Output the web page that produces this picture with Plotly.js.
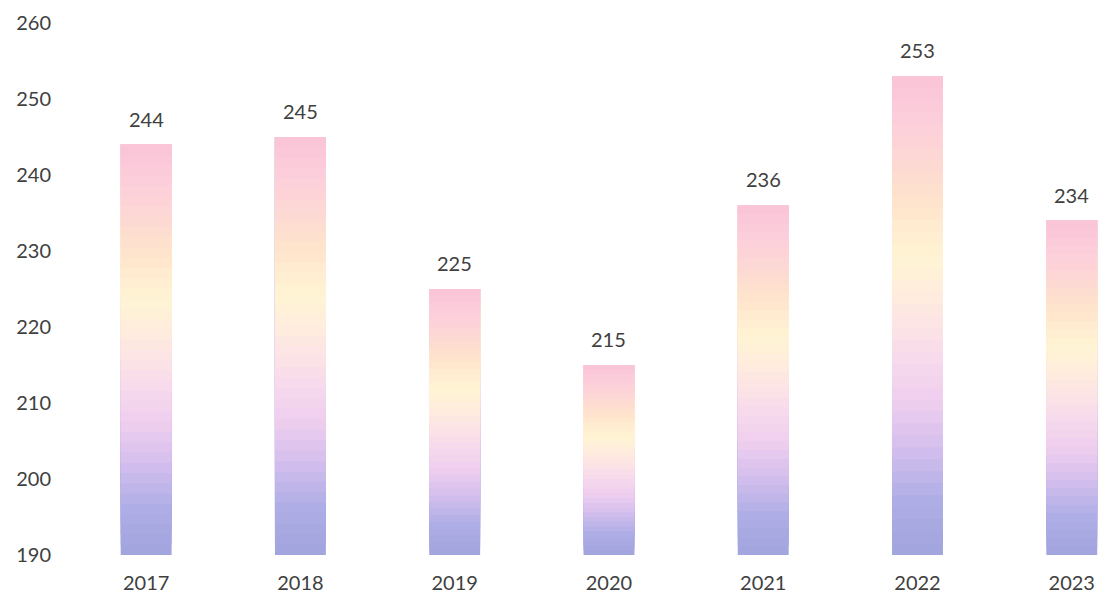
<!DOCTYPE html>
<html><head><meta charset="utf-8">
<script src="https://cdn.plot.ly/plotly-3.0.1.min.js"></script>
<style>html,body{margin:0;padding:0;background:#fff}#chart{width:1098px;height:598px}</style>
</head><body><div id="chart"></div>
<script>
const years = ['2017','2018','2019','2020','2021','2022','2023'];
const values = [244, 245, 225, 215, 236, 253, 234];
const yTicks = [190, 200, 210, 220, 230, 240, 250, 260];

const baseVal = 190;
const nSeg = 40;
const stops = [
  [0.00, [162,164,222]],
  [0.12, [176,174,230]],
  [0.22, [212,190,238]],
  [0.32, [238,206,238]],
  [0.42, [248,220,236]],
  [0.54, [255,236,222]],
  [0.62, [255,244,212]],
  [0.72, [255,230,204]],
  [0.82, [253,216,212]],
  [0.91, [252,206,220]],
  [1.00, [250,196,214]]
];
function colorAt(t){
  for(let i=1;i<stops.length;i++){
    if(t<=stops[i][0]){
      const a=stops[i-1], b=stops[i];
      const f=(t-a[0])/(b[0]-a[0]);
      const c=a[1].map((v,k)=>Math.round(v+(b[1][k]-v)*f));
      return 'rgb('+c.join(',')+')';
    }
  }
  return 'rgb('+stops[stops.length-1][1].join(',')+')';
}
const xIdx = years.map((y,i)=>i);
const traces=[];
for(let k=0;k<nSeg;k++){
  const bases = values.map(v=>baseVal+k*(v-baseVal)/nSeg);
  traces.push({
    type:'bar', x:xIdx, y:values.map((v,i)=>v-bases[i]),
    base: bases,
    width:0.33,
    marker:{color:colorAt((k+0.5)/nSeg), line:{width:0}},
    hoverinfo:'skip', showlegend:false
  });
}
const fnt = 'Lato, "Open Sans", sans-serif';
const annotations = values.map((v,i)=>({
  x:i, y:v, text:String(v), showarrow:false,
  yanchor:'bottom', yshift:12,
  font:{family:fnt, size:20, color:'#404040'}
}));
const layout = {
  width:1098, height:598,
  margin:{l:69, r:0, t:23, b:43},
  paper_bgcolor:'#fff', plot_bgcolor:'#fff',
  barmode:'overlay',
  showlegend:false,
  xaxis:{range:[-0.5, 6.17], tickvals:xIdx, ticktext:years, showgrid:false, zeroline:false, showline:false,
    ticks:'', ticklabelstandoff:14, tickfont:{family:fnt, size:20, color:'#404040'}},
  yaxis:{range:[190,260], tickvals:yTicks, ticktext:yTicks.map(String), showgrid:false, zeroline:false, showline:false,
    ticks:'', ticklabelstandoff:17,
    tickfont:{family:fnt, size:20, color:'#404040'}},
  annotations:annotations
};
Plotly.newPlot('chart', traces, layout, {staticPlot:true, displayModeBar:false});
</script></body></html>
